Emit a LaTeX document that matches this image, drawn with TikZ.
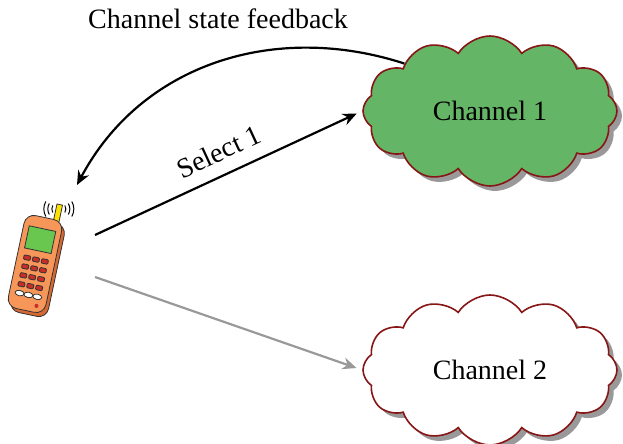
\documentclass[tikz,border=0pt]{standalone}
\usepackage{fontspec}
\setmainfont{Liberation Serif}
\usetikzlibrary{shapes.symbols,shadows,arrows.meta}
\definecolor{chgreen}{RGB}{100,181,101}
\definecolor{chred}{RGB}{135,22,22}
\definecolor{body}{RGB}{246,150,88}
\definecolor{bodyside}{RGB}{214,104,52}
\definecolor{scr}{RGB}{105,198,78}
\definecolor{key}{RGB}{200,45,40}
\begin{document}
\begin{tikzpicture}[x=.5pt,y=.5pt,
  font=\fontsize{14}{16}\selectfont,
  chan/.style={cloud,cloud puffs=12,cloud puff arc=115,aspect=1.8,draw=chred,
    line width=.8pt,minimum width=127pt,minimum height=75pt,inner sep=0pt,
    drop shadow={shadow xshift=2.5pt,shadow yshift=-2.5pt,fill=black!40,opacity=1}},
  link/.style={line width=1.1pt,-{Stealth[length=7pt,width=6pt]}}]
\useasboundingbox (0,0) rectangle (623,444);
\path (490,333) node[chan,fill=chgreen] (c1) {Channel 1}
      (490,74) node[chan,fill=white] (c2) {Channel 2}
      (218,425) node (fb) {Channel state feedback}
      (95,209) coordinate (s1) (95,167) coordinate (s2) (77,259) coordinate (rx);
% the handset
\begin{scope}[shift={(35,180)},rotate=-12,scale=1.13,draw=black!80,line width=.4pt]
  \draw[fill=yellow!85!orange] (8,40) rectangle (13,56);
  \draw[fill=bodyside,rounded corners=5pt] (-14,-45) rectangle (20,39);
  \draw[fill=body,rounded corners=5pt] (-17,-42) rectangle (17,42);
  \draw[fill=scr] (-12,12) rectangle (12,32);
  \foreach \y in {4,-4,-12,-20} \foreach \x in {-8,0,8}
    \draw[fill=key,rounded corners=.5pt] (\x-3,\y-2) rectangle (\x+3,\y+2);
  \foreach \x in {-8,0,8} \draw[fill=white] (\x,-28) ellipse (2pt and 1.2pt);
  \fill[key] (9,-36) circle (.9pt);
  \coordinate (tip) at (10.5,52);
\end{scope}
\foreach \r in {3.5pt,5.5pt,7.5pt}
  \draw[line width=.5pt] (tip) ++(150:\r) arc (150:210:\r)
        (tip) ++(-30:\r) arc (-30:30:\r);
% links
\draw[link,shorten >=3pt] (s1) -- (c1.west) node[midway,above=3pt,sloped] {Select 1};
\draw[link,black!40,shorten >=3pt] (s2) -- (c2.west);
\draw[link] (c1.151) to[out=162,in=62] (rx);
\end{tikzpicture}
\end{document}
